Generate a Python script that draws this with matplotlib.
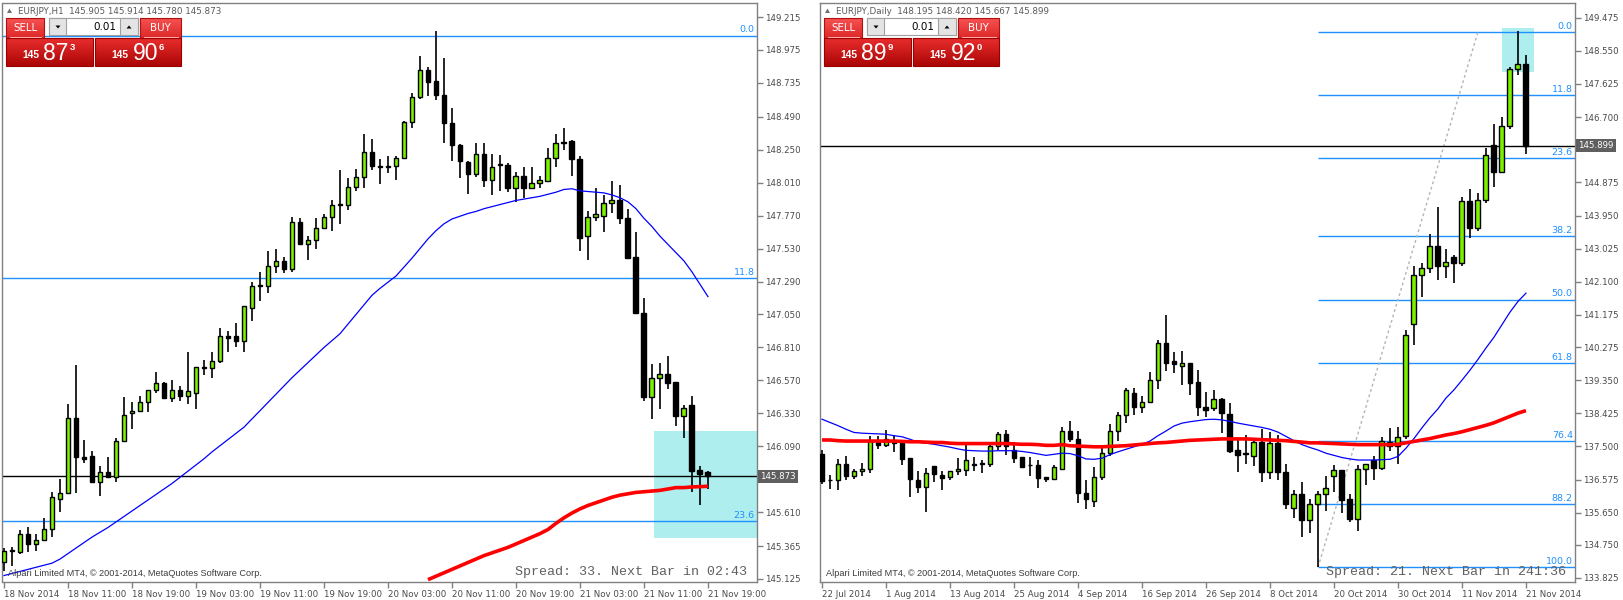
import matplotlib
matplotlib.use("Agg")
import matplotlib.pyplot as plt
import matplotlib.transforms as mtransforms
from matplotlib.patches import Rectangle, Polygon
import numpy as np

# ---------------- DATA ----------------
# Left panel: EURJPY H1 (bars 0..88)
h1_open = [145.25,145.33,145.32,145.45,145.38,145.41,145.49,145.71,145.75,146.30,
           146.01,146.02,145.83,145.90,145.87,146.13,146.33,146.35,146.41,146.50,
           146.55,146.44,146.50,146.46,146.48,146.66,146.66,146.71,146.89,146.89,
           146.86,147.10,147.26,147.26,147.40,147.44,147.38,147.72,147.56,147.59,
           147.68,147.76,147.85,147.85,147.98,148.05,148.23,148.13,148.12,148.13,
           148.19,148.45,148.63,148.83,148.75,148.65,148.44,148.28,148.16,148.07,
           148.22,148.03,148.14,148.14,147.97,148.06,147.97,148.01,148.02,148.19,
           148.30,148.31,148.18,147.62,147.76,147.77,147.86,147.88,147.75,147.47,
           147.06,146.45,146.59,146.62,146.56,146.31,146.39,145.92,145.905]
h1_high = [145.35,145.36,145.48,145.50,145.45,145.57,145.76,145.85,146.40,146.68,
           146.14,146.06,145.95,146.01,146.15,146.45,146.41,146.46,146.50,146.63,
           146.56,146.57,146.53,146.78,146.67,146.72,146.78,146.95,146.93,146.99,
           147.11,147.29,147.36,147.51,147.53,147.47,147.76,147.75,147.62,147.75,
           147.78,147.88,148.10,148.04,148.11,148.36,148.33,148.18,148.20,148.20,
           148.46,148.66,148.93,148.85,149.11,148.92,148.55,148.29,148.17,148.30,
           148.30,148.22,148.21,148.15,148.09,148.12,148.12,148.06,148.26,148.36,
           148.41,148.32,148.20,147.80,147.97,147.92,148.02,147.99,147.82,147.65,
           147.17,146.69,146.70,146.75,146.56,146.39,146.46,145.95,145.914]
h1_low = [145.18,145.22,145.31,145.32,145.33,145.40,145.43,145.61,145.75,145.75,
          145.97,145.83,145.73,145.86,145.83,146.12,146.22,146.35,146.34,146.48,
          146.44,146.41,146.42,146.40,146.36,146.61,146.59,146.70,146.78,146.81,
          146.78,147.00,147.15,147.21,147.35,147.35,147.36,147.56,147.45,147.53,
          147.67,147.66,147.71,147.81,147.95,147.97,148.10,148.00,148.08,148.03,
          148.19,148.41,148.62,148.64,148.61,148.30,148.17,148.04,147.93,148.05,
          147.98,147.92,147.95,147.94,147.87,147.90,147.97,147.97,148.02,148.12,
          148.25,148.06,147.51,147.45,147.73,147.65,147.79,147.71,147.46,147.06,
          146.42,146.29,146.36,146.51,146.24,146.15,145.76,145.66,145.780]
h1_close = [145.33,145.33,145.45,145.38,145.41,145.49,145.72,145.75,146.30,146.01,
            146.00,145.83,145.90,145.87,146.13,146.32,146.35,146.41,146.50,146.55,
            146.44,146.50,146.46,146.49,146.67,146.67,146.71,146.89,146.88,146.86,
            147.11,147.26,147.26,147.40,147.44,147.38,147.72,147.56,147.59,147.68,
            147.76,147.85,147.85,147.98,148.05,148.23,148.13,148.12,148.13,148.19,
            148.45,148.63,148.83,148.74,148.65,148.44,148.28,148.17,148.07,148.22,
            148.03,148.12,148.14,147.97,148.06,147.97,148.01,148.03,148.19,148.30,
            148.30,148.18,147.61,147.76,147.78,147.86,147.88,147.75,147.46,147.06,
            146.45,146.59,146.62,146.55,146.31,146.37,145.91,145.89,145.873]
h1_ma_blue = [145.15,145.165,145.18,145.195,145.21,145.225,145.24,145.27,145.31,145.35,
              145.39,145.43,145.465,145.50,145.54,145.58,145.62,145.66,145.70,145.74,
              145.78,145.82,145.865,145.91,145.955,146.00,146.05,146.095,146.14,146.185,
              146.23,146.29,146.35,146.41,146.47,146.53,146.59,146.645,146.70,146.755,
              146.81,146.86,146.91,146.98,147.05,147.12,147.19,147.24,147.285,147.33,
              147.395,147.46,147.53,147.60,147.66,147.71,147.745,147.765,147.785,147.80,
              147.82,147.835,147.85,147.865,147.88,147.89,147.90,147.91,147.925,147.94,
              147.96,147.965,147.95,147.945,147.94,147.935,147.92,147.90,147.87,147.82,
              147.75,147.69,147.62,147.56,147.50,147.44,147.36,147.27,147.18]
h1_ma_red_start = 53
h1_ma_red = [145.12,145.145,145.17,145.195,145.22,145.245,145.27,145.295,145.315,145.335,
             145.355,145.38,145.405,145.43,145.455,145.485,145.53,145.57,145.605,145.635,
             145.66,145.68,145.70,145.72,145.735,145.745,145.755,145.76,145.765,145.77,
             145.78,145.79,145.79,145.795,145.797,145.80]
h1_xlabels = ["18 Nov 2014","18 Nov 11:00","18 Nov 19:00","19 Nov 03:00","19 Nov 11:00",
              "19 Nov 19:00","20 Nov 03:00","20 Nov 11:00","20 Nov 19:00","21 Nov 03:00",
              "21 Nov 11:00","21 Nov 19:00"]
# 145.850 sits under the last-price box in the reference, so it has no visible label
h1_yticks = [149.215,148.975,148.735,148.490,148.250,148.010,147.770,147.530,147.290,
             147.050,146.810,146.570,146.330,146.090,145.610,145.365,145.125]
h1_box = [81.2, 94.3, 145.426, 146.204]          # x0, x1 (bars), y0, y1 (price)
h1_last = 145.873
h1_header = "EURJPY,H1  145.905 145.914 145.780 145.873"
h1_sell = ("145", "87", "3")
h1_buy = ("145", "90", "6")
h1_spread = "Spread: 33. Next Bar in 02:43"

# Right panel: EURJPY Daily (bars 0..88)
d1_open = [137.29,136.55,136.55,137.01,136.66,136.81,136.86,137.64,137.55,137.64,
           137.59,137.17,136.56,136.36,136.95,136.69,136.64,136.81,136.83,137.01,
           137.01,137.01,137.50,137.84,137.40,137.20,136.97,136.98,136.65,136.60,
           136.88,137.94,137.72,136.19,135.98,136.64,137.33,137.94,138.37,138.98,
           138.61,138.75,139.36,140.38,139.89,139.76,139.82,139.29,138.60,138.56,
           138.82,138.40,137.40,137.29,137.22,137.63,136.79,137.59,136.79,135.78,
           136.18,135.45,135.90,136.16,136.66,136.83,136.02,135.46,136.88,137.12,
           136.91,137.62,137.51,137.78,140.91,142.29,142.47,143.10,142.54,142.79,
           142.63,144.35,143.60,144.39,145.93,145.17,146.45,148.05,148.195]
d1_high = [137.40,136.70,137.15,137.22,136.86,137.05,137.79,137.80,137.96,137.83,
           137.61,137.17,136.81,136.89,136.95,136.82,136.82,137.17,137.55,137.20,
           137.12,137.61,137.89,137.96,137.61,137.21,137.21,137.13,136.65,136.97,
           138.05,138.20,137.94,136.56,136.92,137.45,138.13,138.46,139.13,139.12,
           138.91,139.57,140.47,141.17,140.14,140.17,139.82,139.63,139.02,139.08,
           138.86,138.72,137.68,137.81,137.70,137.99,137.90,137.82,137.02,136.28,
           136.50,136.02,136.26,136.67,136.98,136.83,136.16,136.97,137.00,137.22,
           137.75,138.01,138.03,140.76,142.54,142.61,143.44,144.19,143.02,142.84,
           144.48,144.69,144.59,145.84,146.52,146.70,148.11,149.10,148.420]
d1_low = [136.45,136.31,136.28,136.56,136.58,136.67,136.77,137.44,137.49,137.35,
          136.99,136.08,136.19,135.66,136.52,136.29,136.56,136.71,136.68,136.82,
          136.75,136.93,137.40,137.26,137.03,136.93,136.66,136.35,136.51,136.56,
          136.84,137.61,135.91,135.74,135.82,136.56,137.24,137.65,138.16,138.38,
          138.44,138.70,139.10,139.62,139.56,139.21,138.93,138.36,138.31,138.50,
          137.87,137.33,136.79,137.01,136.96,136.52,136.58,136.56,135.76,135.49,
          134.97,135.07,134.12,135.70,136.23,135.65,135.39,135.15,136.43,136.55,
          136.84,137.37,137.00,137.70,140.34,141.66,142.35,142.16,142.21,142.06,
          142.55,143.31,143.53,144.29,144.76,145.13,146.38,147.87,145.667]
d1_close = [136.53,136.55,137.01,136.66,136.81,136.87,137.64,137.55,137.70,137.59,
            137.16,136.58,136.36,136.75,136.72,136.63,136.81,136.87,137.11,136.97,
            137.01,137.50,137.84,137.52,137.19,136.93,136.97,136.63,136.60,136.92,
            137.94,137.72,136.19,136.02,136.64,137.33,137.94,138.37,139.07,138.61,
            138.75,139.36,140.38,139.82,139.79,139.82,139.28,138.59,138.53,138.82,
            138.42,137.38,137.27,137.29,137.61,136.79,137.59,136.79,135.89,136.18,
            135.45,135.90,136.16,136.33,136.83,135.99,135.46,136.88,137.00,136.91,
            137.64,137.51,137.75,140.61,142.30,142.49,143.10,142.54,142.66,142.61,
            144.35,143.60,144.37,145.63,145.17,146.45,148.05,148.17,145.899]
d1_ma_blue = [138.26,138.17,138.08,137.98,137.89,137.87,137.86,137.85,137.84,137.80,
              137.77,137.70,137.62,137.59,137.56,137.52,137.48,137.43,137.39,137.38,
              137.37,137.37,137.38,137.38,137.38,137.36,137.33,137.29,137.25,137.28,
              137.31,137.30,137.24,137.15,137.14,137.17,137.27,137.35,137.42,137.49,
              137.56,137.65,137.80,137.93,138.07,138.15,138.19,138.22,138.25,138.26,
              138.24,138.20,138.15,138.11,138.07,138.03,137.98,137.90,137.78,137.66,
              137.55,137.47,137.40,137.31,137.25,137.19,137.15,137.12,137.12,137.12,
              137.13,137.14,137.22,137.45,137.72,138.02,138.30,138.55,138.85,139.08,
              139.35,139.63,139.93,140.25,140.55,140.90,141.25,141.55,141.78]
d1_ma_red = [137.68,137.68,137.66,137.65,137.65,137.65,137.65,137.65,137.65,137.65,
             137.64,137.63,137.63,137.62,137.61,137.61,137.59,137.58,137.58,137.58,
             137.58,137.58,137.58,137.58,137.57,137.56,137.56,137.55,137.53,137.53,
             137.55,137.52,137.51,137.50,137.49,137.49,137.50,137.51,137.52,137.54,
             137.56,137.58,137.60,137.61,137.63,137.65,137.67,137.68,137.69,137.70,
             137.71,137.71,137.71,137.71,137.70,137.69,137.68,137.67,137.66,137.64,
             137.62,137.60,137.60,137.59,137.58,137.57,137.56,137.55,137.55,137.55,
             137.55,137.55,137.56,137.60,137.64,137.68,137.72,137.77,137.82,137.86,
             137.91,137.97,138.03,138.09,138.16,138.25,138.34,138.43,138.50]
d1_xlabels = ["22 Jul 2014","1 Aug 2014","13 Aug 2014","25 Aug 2014","4 Sep 2014",
              "16 Sep 2014","26 Sep 2014","8 Oct 2014","20 Oct 2014","30 Oct 2014",
              "11 Nov 2014","21 Nov 2014"]
# 145.775 sits under the last-price box in the reference, so it has no visible label
d1_yticks = [149.475,148.550,147.625,146.700,144.875,143.950,143.025,142.100,
             141.175,140.275,139.350,138.425,137.500,136.575,135.650,134.750,133.825]
d1_box = [85.0, 89.0, 147.97, 149.18]
d1_last = 145.899
d1_header = "EURJPY,Daily  148.195 148.420 145.667 145.899"
d1_sell = ("145", "89", "9")
d1_buy = ("145", "92", "0")
d1_spread = "Spread: 21. Next Bar in 241:36"

# Fibonacci retracement (drawn on daily, visible on both)
fib_high = 149.08
fib_low = 134.12
fib_pcts = [0.0, 11.8, 23.6, 38.2, 50.0, 61.8, 76.4, 88.2, 100.0]
fib_labels = ["0.0", "11.8", "23.6", "38.2", "50.0", "61.8", "76.4", "88.2", "100.0"]
fib_start_bar_d1 = 62
fib_trend_bars = [62, 82]
fib_trend_prices = [134.12, 149.08]

copyright_text = "Alpari Limited MT4, \u00a9 2001-2014, MetaQuotes Software Corp."

# ---------------- STYLE ----------------
W, H = 1624, 600
GREEN = '#7CF000'
FIB = '#1E90FF'
GRAY = '#808080'
TXT = '#4a4a4a'
plt.rcParams['font.family'] = ['DejaVu Sans']
NARROW = ['Liberation Sans Narrow', 'Liberation Sans', 'DejaVu Sans']
SANS = ['Liberation Sans', 'DejaVu Sans']

fig = plt.figure(figsize=(W / 100, H / 100), dpi=100)
fig.patch.set_facecolor('white')


def px_axes(x0, y0, x1, y1):
    return fig.add_axes([x0 / W, 1 - y1 / H, (x1 - x0) / W, (y1 - y0) / H])


def draw_panel(ax, o, h, l, c, ma_blue, ma_red, ma_red_start, xl, ylim, xlabels, yticks,
               box, last, fib_x0, show_trend):
    o, h, l, c = map(np.asarray, (o, h, l, c))
    x = np.arange(len(o))
    ax.set_xlim(*xl)
    ax.set_ylim(*ylim)
    ax.set_facecolor('white')
    for s in ax.spines.values():
        s.set_color(GRAY)
        s.set_linewidth(1.0)
    # highlight rectangle
    ax.add_patch(Rectangle((box[0], box[2]), box[1] - box[0], box[3] - box[2],
                           facecolor='#AFEEEE', edgecolor='none', zorder=1))
    # fib levels
    rng = fib_high - fib_low
    lv = [fib_high - p / 100.0 * rng for p in fib_pcts]
    x_end = xl[1] + 1
    ax.hlines(lv, fib_x0, x_end, colors=FIB, linewidth=1.0, zorder=2)
    tr = mtransforms.blended_transform_factory(ax.transAxes, ax.transData)
    for y, lab in zip(lv, fib_labels):
        if ylim[0] < y < ylim[1]:
            ax.text(0.997, y + (ylim[1] - ylim[0]) * 0.002, lab, transform=tr, ha='right',
                    va='bottom', fontsize=6.8, color=FIB, zorder=2)
    if show_trend:
        ax.plot(fib_trend_bars, fib_trend_prices, color='#B4B4B4', lw=1.0,
                linestyle=(0, (2, 2)), zorder=2)
    # last price line
    ax.axhline(last, color='black', lw=1.0, zorder=2)
    # moving averages
    ax.plot(x, ma_blue, color='#0000FF', lw=0.9, zorder=5)
    xr = np.arange(ma_red_start, ma_red_start + len(ma_red))
    ax.plot(xr, ma_red, color='#FF0000', lw=2.6, zorder=5, solid_capstyle='butt')
    # candles
    ax.vlines(x, l, h, color='black', lw=1.2, zorder=3)
    up = c > o
    tiny = (ylim[1] - ylim[0]) / 579.0 * 0.6
    hgt = np.maximum(np.abs(c - o), tiny)
    ax.bar(x, hgt, bottom=np.minimum(o, c), width=0.62,
           color=np.where(up, GREEN, 'black'), edgecolor='black', linewidth=1.0, zorder=4)
    # axes ticks
    ax.yaxis.tick_right()
    ax.set_yticks(yticks)
    ax.set_yticklabels(["%.3f" % v for v in yticks])
    ax.set_xticks(np.arange(0, 8 * len(xlabels), 8))
    ax.set_xticklabels(xlabels, ha='left')
    ax.tick_params(axis='both', direction='out', length=4, width=1, color=GRAY,
                   labelsize=6.2, labelcolor=TXT)
    ax.tick_params(axis='y', pad=2)
    ax.tick_params(axis='x', pad=2)
    # last price box
    ax.text(1.0 + 3 / 755, last, "%.3f" % last, transform=tr, ha='left', va='center',
            fontsize=6.2, color='white', zorder=10, clip_on=False,
            bbox=dict(boxstyle='square,pad=0.25', fc='#5f5f5f', ec='none'))


# Left panel
axL = px_axes(2.5, 3, 757, 582)
draw_panel(axL, h1_open, h1_high, h1_low, h1_close, h1_ma_blue, h1_ma_red, h1_ma_red_start,
           (-0.19, 94.13), (145.103, 149.317), h1_xlabels, h1_yticks, h1_box, h1_last,
           -1, False)

# Right panel
axR = px_axes(820, 3, 1575, 582)
draw_panel(axR, d1_open, d1_high, d1_low, d1_close, d1_ma_blue, d1_ma_red, 0,
           (-0.25, 94.13), (133.713, 149.886), d1_xlabels, d1_yticks, d1_box, d1_last,
           fib_start_bar_d1, True)

# ---------------- OVERLAY (trade panels, captions) ----------------
ov = fig.add_axes([0, 0, 1, 1])
ov.set_zorder(20)
ov.patch.set_alpha(0)
ov.axis('off')


def grad(x0, y0, x1, y1, ctop, cbot):
    g = np.linspace(0, 1, 32)[:, None, None]
    a = np.array(ctop, float)[None, None, :] / 255.0
    b = np.array(cbot, float)[None, None, :] / 255.0
    img = a * (1 - g) + b * g
    ov.imshow(img, extent=(x0, x1, y1, y0), aspect='auto', interpolation='bilinear', zorder=1)


def trade_panel(dx, header, sell, buy, spread, spread_right):
    # header
    ov.add_patch(Polygon([[dx + 7, 13], [dx + 12, 13], [dx + 9.5, 8.5]], closed=True,
                         fc='#707070', ec='none', zorder=3))
    ov.text(dx + 18, 11, header, fontsize=6.3, color='#5a5a5a', va='center', ha='left', zorder=3)
    # SELL / BUY label buttons
    for (x0, x1, lab) in [(dx + 6, dx + 44, "SELL"), (dx + 140, dx + 181, "BUY")]:
        grad(x0, 18, x1, 38, (246, 82, 82), (222, 40, 40))
        ov.add_patch(Rectangle((x0, 18), x1 - x0, 20, fill=False, ec='#B01010', lw=0.8, zorder=2))
        ov.plot([x0 + 4, x1 - 3], [36.5, 36.5], color='#FFB0B0', lw=0.7, zorder=3)
        ov.text((x0 + x1) / 2, 28, lab, fontsize=7.4, color='white', ha='center', va='center',
                zorder=3)
    # spin box
    ov.add_patch(Rectangle((dx + 49, 18.3), 89, 17, fc='white', ec='#A0A0A0', lw=0.8, zorder=2))
    ov.add_patch(Rectangle((dx + 49, 18.3), 17.5, 17, fc='#E4E4E4', ec='#A0A0A0', lw=0.8, zorder=2))
    ov.add_patch(Rectangle((dx + 120, 18.3), 18, 17, fc='#E4E4E4', ec='#A0A0A0', lw=0.8, zorder=2))
    ov.add_patch(Polygon([[dx + 55.5, 25.5], [dx + 60.5, 25.5], [dx + 58, 28.5]], fc='black',
                         ec='none', zorder=3))
    ov.add_patch(Polygon([[dx + 126.5, 28.5], [dx + 131.5, 28.5], [dx + 129, 25.5]], fc='black',
                         ec='none', zorder=3))
    ov.text(dx + 116, 27, "0.01", fontsize=7.5, color='black', ha='right', va='center', zorder=3)
    # price boxes
    for (x0, x1, p) in [(dx + 6, dx + 92.7, sell), (dx + 95, dx + 181, buy)]:
        grad(x0, 38, x1, 65.7, (232, 45, 45), (172, 6, 6))
        ov.add_patch(Rectangle((x0, 38), x1 - x0, 27.7, fill=False, ec='#9A0000', lw=0.8, zorder=2))
        ov.text(x0 + 16.5, 58.5, p[0], fontsize=7.4, fontweight='bold', color='white',
                ha='left', va='baseline', zorder=3, family=SANS)
        ov.text(x0 + 37.5, 60.3, p[1], fontsize=16.5, color='white', ha='left', va='baseline',
                zorder=3, family=NARROW)
        ov.text(x0 + 64, 42.5, p[2], fontsize=6.8, fontweight='bold', color='white', ha='left',
                va='top', zorder=3, family=SANS)
    # captions
    ov.text(dx + 8, 573, copyright_text, fontsize=6.6, color='#3c3c3c', ha='left', va='center',
            zorder=3, family=SANS)
    ov.text(spread_right, 572, spread, fontsize=9.6, color='#606060', ha='right', va='center',
            zorder=3, family=['Liberation Mono', 'DejaVu Sans Mono'])


trade_panel(0, h1_header, h1_sell, h1_buy, h1_spread, 747)
trade_panel(818, d1_header, d1_sell, d1_buy, d1_spread, 1566)

ov.set_xlim(0, W)
ov.set_ylim(H, 0)

fig.savefig("out.png", dpi=100, facecolor='white')
